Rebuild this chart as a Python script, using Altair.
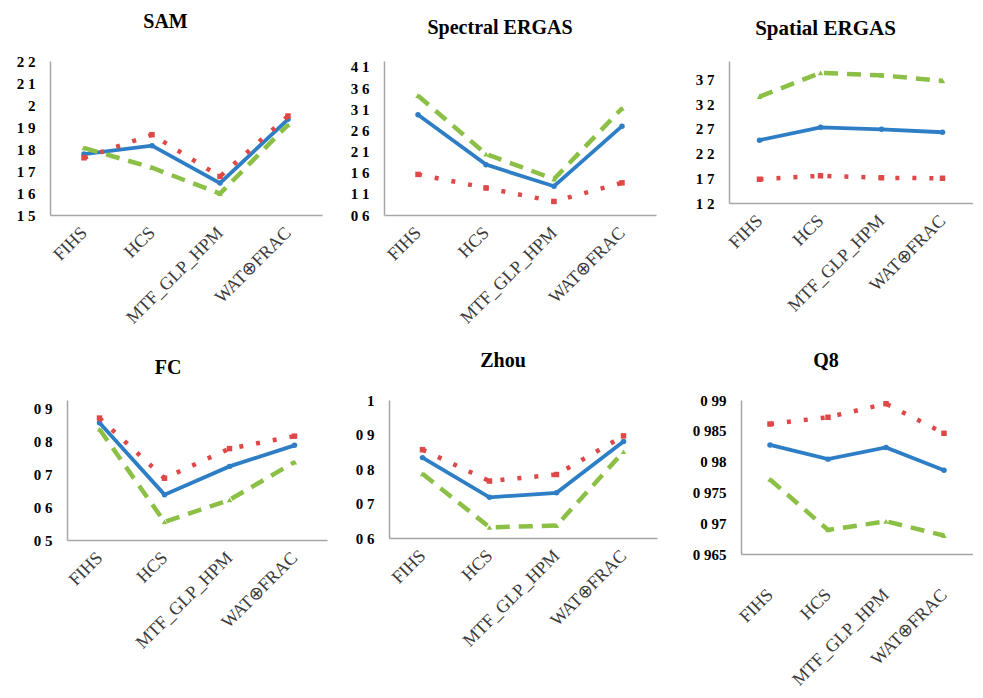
import altair as alt
import pandas as pd

# ---------------- data ----------------
categories = ["FIHS", "HCS", "MTF_GLP_HPM", "WAT⊕FRAC"]
series_names = ["Series 1", "Series 2", "Series 3"]

sam_blue = [1.777, 1.815, 1.645, 1.935]
sam_red = [1.760, 1.865, 1.675, 1.950]
sam_green = [1.805, 1.715, 1.597, 1.910]
sam_ticks = [1.5, 1.6, 1.7, 1.8, 1.9, 2, 2.1, 2.2]

spec_blue = [2.97, 1.79, 1.28, 2.70]
spec_red = [1.56, 1.24, 0.92, 1.36]
spec_green = [3.42, 2.04, 1.45, 3.12]
spec_ticks = [0.6, 1.1, 1.6, 2.1, 2.6, 3.1, 3.6, 4.1]

spat_blue = [2.47, 2.73, 2.69, 2.63]
spat_red = [1.68, 1.75, 1.71, 1.70]
spat_green = [3.35, 3.83, 3.78, 3.67]
spat_ticks = [1.2, 1.7, 2.2, 2.7, 3.2, 3.7]

fc_blue = [0.857, 0.638, 0.724, 0.788]
fc_red = [0.871, 0.688, 0.778, 0.816]
fc_green = [0.837, 0.555, 0.622, 0.737]
fc_ticks = [0.5, 0.6, 0.7, 0.8, 0.9]

zhou_blue = [0.833, 0.718, 0.731, 0.880]
zhou_red = [0.856, 0.765, 0.784, 0.896]
zhou_green = [0.786, 0.631, 0.636, 0.850]
zhou_ticks = [0.6, 0.7, 0.8, 0.9, 1]

q8_blue = [0.9827, 0.9804, 0.9823, 0.9786]
q8_red = [0.9861, 0.9872, 0.9894, 0.9846]
q8_green = [0.9771, 0.9689, 0.9703, 0.9680]
q8_ticks = [0.965, 0.97, 0.975, 0.98, 0.985, 0.99]

# ---------------- styling ----------------
SERIF = "Liberation Serif"
styles = [
    ("Series 1", "#2E7EC6", None, 3.8, "circle"),
    ("Series 2", "#E04848", [4, 13], 4.5, "square"),
    ("Series 3", "#8CBF46", [14, 9], 4.5, "triangle-up"),
]


def panel(title, blue, red, green, dom, ticks, w, h, ext, xpad, tsize, toff):
    df = pd.DataFrame({
        "cat": categories * 3,
        "series": [s for s in series_names for _ in categories],
        "value": blue + red + green,
    })
    x = alt.X(
        "cat:N", sort=categories,
        scale=alt.Scale(type="point", padding=0.5),
        axis=alt.Axis(title=None, labelAngle=315, labelAlign="right",
                      labelBaseline="middle", labelPadding=xpad, ticks=False,
                      domainColor="#A6A6A6", domainWidth=1.5,
                      labelFont=SERIF, labelFontSize=18, labelColor="#3a3a3a",
                      labelOverlap=False, labelBound=False),
    )
    y = alt.Y(
        "value:Q",
        scale=alt.Scale(domain=dom, nice=False, zero=False),
        axis=alt.Axis(title=None, values=ticks, grid=False, ticks=False,
                      labelExpr="replace(toString(datum.value), '.', ' ')",
                      minExtent=ext, labelPadding=15,
                      domainColor="#A6A6A6", domainWidth=1.5,
                      labelFont=SERIF, labelFontSize=15, labelFontWeight="bold",
                      labelColor="#000000",
                      labelOverlap=False, labelFlush=False),
    )
    layers = []
    for name, color, dash, width, shape in styles:
        base = alt.Chart(df).transform_filter(alt.datum.series == name)
        kw = dict(color=color, strokeWidth=width, strokeCap="butt")
        if dash is not None:
            kw["strokeDash"] = dash
        layers.append(base.mark_line(**kw).encode(x=x, y=y))
        layers.append(base.mark_point(shape=shape, filled=True, color=color,
                                      size=30, opacity=1).encode(x=x, y=y))
    return alt.layer(*layers).properties(
        width=w, height=h,
        title=alt.TitleParams(title, font=SERIF, fontSize=tsize,
                              fontWeight="bold", anchor="middle",
                              frame="bounds", offset=toff, color="#000000"),
    )


def spacer():
    return alt.Chart(pd.DataFrame({"a": [0]})).mark_text(text="").encode(
        x=alt.value(0), y=alt.value(0)
    ).properties(width=1, height=1)


p1 = panel("SAM", sam_blue, sam_red, sam_green, [1.5, 2.2], sam_ticks,
           272, 154, 41, 15, 20, 22)
p2 = panel("Spectral ERGAS", spec_blue, spec_red, spec_green, [0.6, 4.24],
           spec_ticks, 272, 154, 40, 15, 20, 22)
p3 = panel("Spatial ERGAS", spat_blue, spat_red, spat_green, [1.2, 4.07],
           spat_ticks, 244, 142, 51, 15, 21, 22)
p4 = panel("FC", fc_blue, fc_red, fc_green, [0.5, 0.926], fc_ticks,
           260, 140, 58, 15, 20, 22)
p5 = panel("Zhou", zhou_blue, zhou_red, zhou_green, [0.6, 1.0], zhou_ticks,
           268, 138, 40, 15, 20, 22)
p6 = panel("Q8", q8_blue, q8_red, q8_green, [0.965, 0.99], q8_ticks,
           232, 154, 62, 38, 20, 22)

row1 = alt.hconcat(spacer(), alt.hconcat(p1, p2, p3, spacing=22), spacing=0)
row2 = alt.hconcat(spacer(), alt.hconcat(p4, p5, p6, spacing=22), spacing=0)

chart = alt.vconcat(row1, row2, spacing=24).properties(
    padding={"left": 0, "top": 4, "right": 0, "bottom": 0},
    background="white",
).configure_view(stroke=None)

chart.save("out.html", embed_options={"renderer": "svg", "actions": False})
